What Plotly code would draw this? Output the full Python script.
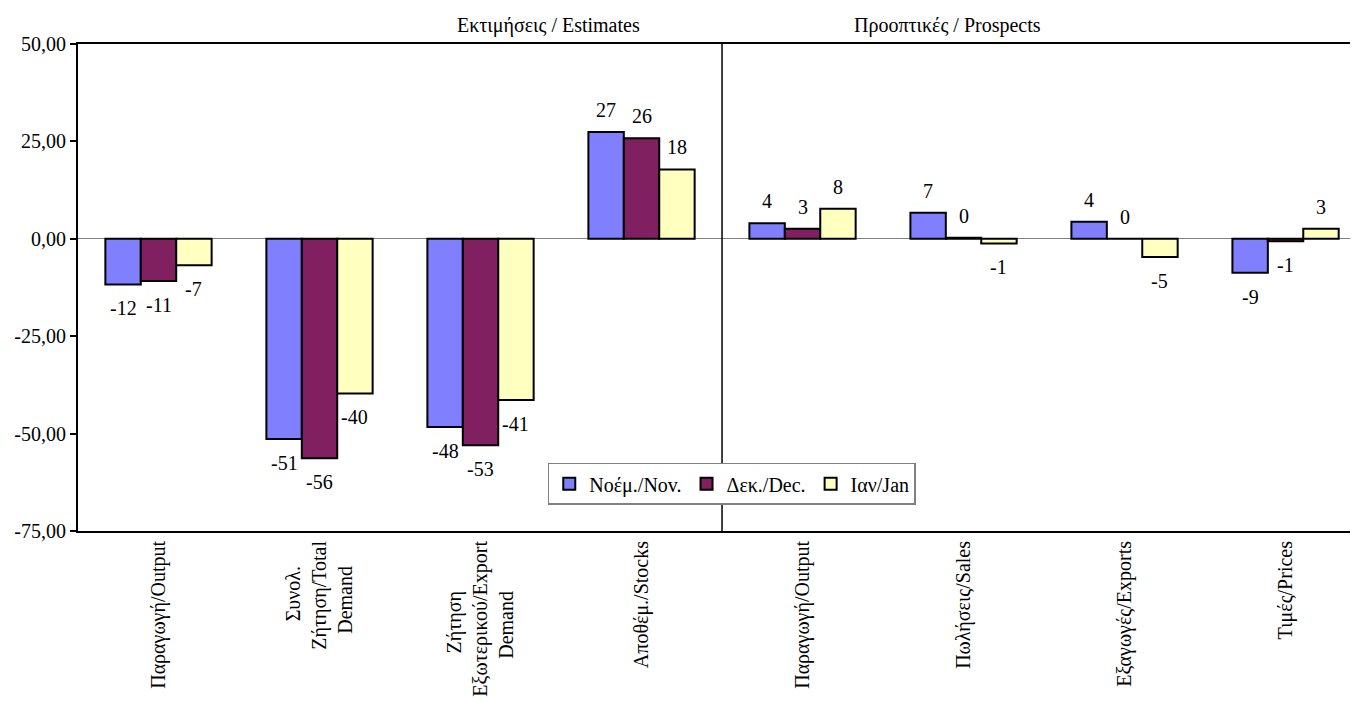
import plotly.graph_objects as go

NB = "\u00a0"  # trailing non-breaking spaces centre the short lines of wrapped labels

categories = [
    "Παραγωγή/Output",
    "Συνολ." + NB * 5 + "<br>Ζήτηση/Total<br>Demand" + NB * 5,
    "Ζήτηση" + NB * 10 + "<br>Εξωτερικού/Export<br>Demand" + NB * 10,
    "Αποθέμ./Stocks",
    "Παραγωγή/Output",
    "Πωλήσεις/Sales",
    "Εξαγωγές/Exports",
    "Τιμές/Prices",
]
nov = [-11.7, -51.4, -48.3, 27.4, 4.0, 6.7, 4.4, -8.7]
dec = [-10.8, -56.3, -53.0, 25.8, 2.6, 0.3, 0.0, -0.6]
jan = [-6.8, -39.7, -41.4, 17.8, 7.7, -1.2, -4.7, 2.6]
series_names = ["Νοέμ./Nov.", "Δεκ./Dec.", "Ιαν/Jan"]
series_colors = ["#8080FF", "#802060", "#FFFFC0"]
y_ticks = [-75, -50, -25, 0, 25, 50]
y_tick_labels = ["-75,00", "-50,00", "-25,00", "0,00", "25,00", "50,00"]
section_titles = ["Εκτιμήσεις / Estimates", "Προοπτικές / Prospects"]

FONT = "Liberation Serif, Times New Roman, serif"
FS = 20
BARGAP = 0.34
bar_w = (1 - BARGAP) / 3

positions = list(range(len(categories)))

fig = go.Figure()
annotations = []
for k, (name, vals, col) in enumerate(zip(series_names, [nov, dec, jan], series_colors)):
    fig.add_trace(go.Bar(
        x=positions, y=vals, name=name,
        marker=dict(color=col, line=dict(color="black", width=2)),
    ))
    for i, v in zip(positions, vals):
        annotations.append(dict(
            x=i + (k - 1) * bar_w, y=v, xref="x", yref="y",
            text=str(round(v)), showarrow=False,
            yanchor="middle", yshift=22 if v >= 0 else -24,
            font=dict(family=FONT, size=FS, color="black"),
        ))

# section headers above the plot
annotations.append(dict(x=0.2945, y=1, xref="paper", yref="paper", text=section_titles[0],
                        showarrow=False, yanchor="bottom", yshift=5,
                        font=dict(family=FONT, size=FS, color="black")))
annotations.append(dict(x=0.754, y=1, xref="paper", yref="paper", text=section_titles[1],
                        showarrow=False, yanchor="bottom", yshift=5,
                        font=dict(family=FONT, size=FS, color="black")))

# page body has an 8px margin, so the figure is sized to fit the window
fig.update_layout(
    width=1350, height=694,
    margin=dict(l=70, r=0, t=36, b=171, autoexpand=False),
    paper_bgcolor="white", plot_bgcolor="white",
    barmode="group", bargap=BARGAP, bargroupgap=0,
    font=dict(family=FONT, size=FS, color="black"),
    annotations=annotations,
    shapes=[dict(type="line", xref="x", yref="paper", x0=3.5, x1=3.5, y0=0, y1=1,
                 line=dict(color="black", width=1.5))],
    legend=dict(
        orientation="h", x=0.367, y=0.14, xanchor="left", yanchor="top",
        bgcolor="white", bordercolor="#808080", borderwidth=1.5,
        font=dict(family=FONT, size=FS, color="black"),
    ),
)
fig.update_xaxes(
    range=[-0.5, 7.45], tickvals=positions, ticktext=categories, tickangle=-90,
    showline=True, mirror=True, linecolor="black", linewidth=2,
    showgrid=False, zeroline=False, ticks="", automargin=False,
)
fig.update_yaxes(
    range=[-75, 50], tickvals=y_ticks, ticktext=y_tick_labels,
    showline=True, linecolor="black", linewidth=2,
    ticks="outside", ticklen=6, tickcolor="black", tickwidth=1.5,
    showgrid=False, zeroline=True, zerolinecolor="#808080", zerolinewidth=1,
    automargin=False,
)

fig.write_html("out.html")
